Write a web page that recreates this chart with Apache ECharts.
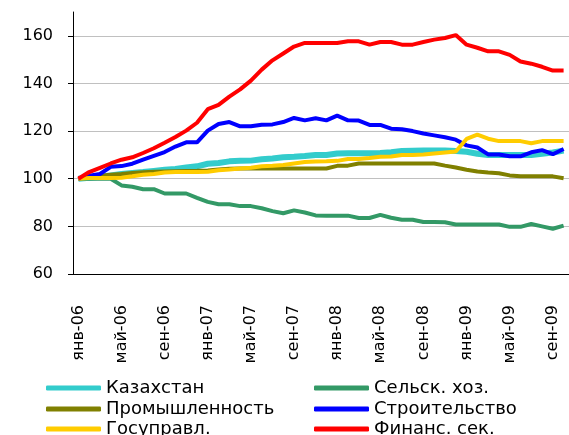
<!DOCTYPE html>
<html>
<head>
<meta charset="utf-8">
<script src="https://cdn.jsdelivr.net/npm/echarts@6/dist/echarts.min.js"></script>
<style>
  html, body { margin: 0; padding: 0; background: #fff; }
  #main { width: 569px; height: 435px; }
</style>
</head>
<body>
<div id="main"></div>
<script>
// months янв-06 .. окт-09 (the last one is cut off by the right edge)
var months = ['янв', 'фев', 'мар', 'апр', 'май', 'июн', 'июл', 'авг', 'сен', 'окт', 'ноя', 'дек'];
var categories = [];
for (var y = 6; y <= 9; y++) {
  for (var m = 0; m < 12; m++) {
    if (y === 9 && m > 9) break;
    categories.push(months[m] + '-0' + y);
  }
}

var kazakhstan = [100, 100.4, 100.8, 101.4, 102, 102.4, 102.8, 103.3, 103.8, 104.1, 104.7, 105.2,
  106.3, 106.6, 107.3, 107.5, 107.6, 108.2, 108.5, 109, 109.2, 109.5, 110, 110,
  110.6, 110.7, 110.7, 110.7, 110.8, 111.1, 111.6, 111.7, 111.8, 111.9, 111.8, 111.6,
  111.3, 110.5, 110, 110, 110, 110, 110, 110.5, 111, 111.8];
var agriculture = [100, 100, 100, 100, 97.2, 96.6, 95.6, 95.6, 93.8, 93.8, 93.8, 92,
  90.3, 89.3, 89.3, 88.5, 88.5, 87.6, 86.4, 85.5, 86.7, 85.8, 84.6, 84.5,
  84.5, 84.5, 83.5, 83.5, 84.8, 83.6, 82.8, 82.8, 81.8, 81.8, 81.7, 80.8,
  80.8, 80.8, 80.8, 80.8, 79.8, 79.8, 81, 80, 79, 80.3];
var industry = [100, 100.8, 101.3, 101.7, 102, 102.4, 102.7, 102.9, 103, 103.1, 103.2, 103.3,
  103.5, 103.9, 104.2, 104.3, 104.3, 104.3, 104.3, 104.3, 104.3, 104.3, 104.3, 104.3,
  105.4, 105.5, 106.4, 106.4, 106.4, 106.4, 106.4, 106.4, 106.4, 106.4, 105.5, 104.7,
  103.8, 103, 102.6, 102.3, 101.4, 101, 101, 101, 101, 100.2];
var construction = [100, 101.3, 102, 105, 105.3, 106.3, 108, 109.6, 111.2, 113.5, 115.3, 115.3,
  120.2, 123, 123.8, 122, 122, 122.7, 122.8, 123.8, 125.5, 124.5, 125.4, 124.5,
  126.5, 124.5, 124.4, 122.6, 122.6, 121, 120.8, 120, 119, 118.2, 117.4, 116.4,
  114, 113.1, 110.2, 110.2, 109.4, 109.4, 111.1, 112, 110.3, 112.5];
var government = [100, 100.3, 100.3, 100.3, 100.4, 101, 101.7, 102, 102.6, 102.8, 102.8, 102.8,
  102.9, 103.6, 103.9, 104.3, 104.6, 105.2, 105.4, 105.8, 106.4, 107, 107.2, 107.3,
  107.5, 108.3, 108.3, 108.7, 109.2, 109.3, 110, 110, 110.2, 110.6, 111, 111.4,
  116.7, 118.5, 116.8, 115.8, 115.8, 115.8, 114.9, 115.8, 115.8, 115.8];
var finance = [100, 102.8, 104.6, 106.4, 108, 109, 110.8, 112.8, 115.1, 117.5, 120.2, 123.5,
  129.2, 131, 134.5, 137.5, 141.2, 145.8, 149.7, 152.6, 155.5, 157, 157, 157,
  157, 157.7, 157.7, 156.3, 157.4, 157.4, 156.3, 156.3, 157.4, 158.4, 159.1, 160.3,
  156.3, 155, 153.5, 153.5, 152, 149.2, 148.3, 147, 145.4, 145.4];

var FONT = 'DejaVu Sans';

function line(name, data, color, width) {
  return {
    name: name,
    type: 'line',
    data: data,
    symbol: 'none',
    color: color,
    lineStyle: { width: width, color: color },
    animation: false
  };
}

// one legend per entry, two columns of three rows
function legendItem(name, left, top) {
  return {
    data: [name],
    left: left,
    top: top,
    padding: 0,
    itemWidth: 55,
    itemHeight: 5,
    icon: 'roundRect',
    textStyle: { fontFamily: FONT, fontSize: 18, color: '#000', lineHeight: 20 }
  };
}

var chart = echarts.init(document.getElementById('main'));
chart.setOption({
  backgroundColor: '#fff',
  grid: { left: 73, right: -11.4, top: 12, bottom: 161 },
  legend: [
    legendItem('Казахстан', 46, 378),
    legendItem('Промышленность', 46, 399),
    legendItem('Госуправл.', 46, 419),
    legendItem('Сельск. хоз.', 314, 378),
    legendItem('Строительство', 314, 399),
    legendItem('Финанс. сек.', 314, 419)
  ],
  xAxis: {
    type: 'category',
    data: categories,
    boundaryGap: true,
    axisLine: { lineStyle: { color: '#000', width: 1 } },
    axisTick: { interval: 3, length: 5, lineStyle: { color: '#000' } },
    axisLabel: {
      interval: 3, rotate: 90, margin: 31,
      fontFamily: FONT, fontSize: 16, color: '#000'
    },
    splitLine: { show: false }
  },
  yAxis: {
    type: 'value',
    min: 60,
    max: 170,
    interval: 20,
    axisLine: { show: true, lineStyle: { color: '#000', width: 1 } },
    axisTick: { show: true, length: 5, lineStyle: { color: '#000' } },
    axisLabel: {
      margin: 20, fontFamily: FONT, fontSize: 16, color: '#000',
      showMaxLabel: false
    },
    splitLine: { show: true, showMaxLine: false, lineStyle: { color: '#c0c0c0', width: 1 } }
  },
  series: [
    line('Казахстан', kazakhstan, '#33CCCC', 6),
    line('Сельск. хоз.', agriculture, '#339966', 4),
    line('Промышленность', industry, '#808000', 4),
    line('Строительство', construction, '#0000FF', 4),
    line('Госуправл.', government, '#FFCC00', 4),
    line('Финанс. сек.', finance, '#FF0000', 4)
  ]
});
</script>
</body>
</html>
